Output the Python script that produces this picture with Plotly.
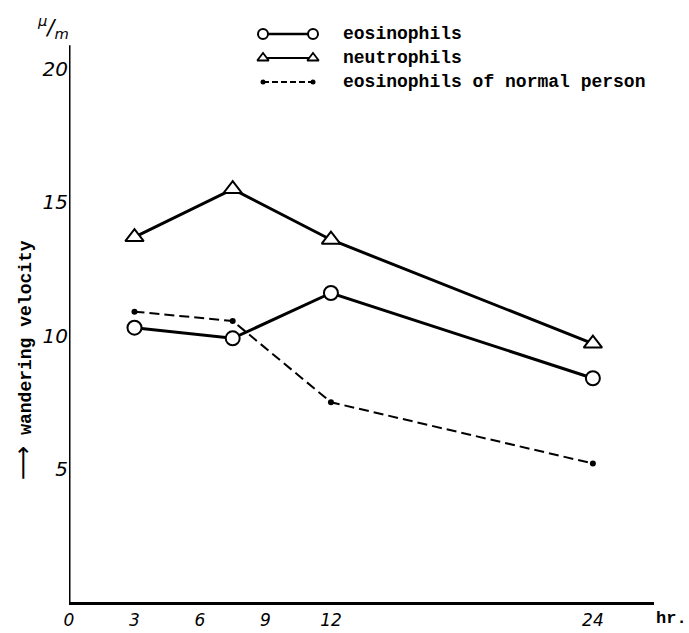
import plotly.graph_objects as go

# ---------------- data ----------------
hours = [3, 7.5, 12, 24]
eosinophils = [10.3, 9.9, 11.6, 8.4]
neutrophils = [13.7, 15.5, 13.6, 9.7]
normal_eos = [10.9, 10.55, 7.5, 5.2]

x_ticks = [0, 3, 6, 9, 12, 24]
y_ticks = [5, 10, 15, 20]
series_names = ["eosinophils", "neutrophils", "eosinophils of normal person"]

# ---------------- layout constants ----------------
W, H = 689, 633
ML, MR, MT, MB = 69, 35, 0, 31
PW, PH = W - ML - MR, H - MT - MB
X_MAX = 26.8
Y_MAX = 22.6
TYPE = "Liberation Mono"
HAND = "DejaVu Sans"


def px(xp):
    return (xp - ML) / PW


def py(yp):
    return (H - MB - yp) / PH


fig = go.Figure()

# data traces
fig.add_trace(go.Scatter(
    x=hours, y=normal_eos, mode="lines+markers", name=series_names[2],
    line=dict(color="black", width=2, dash="10px,5px"),
    marker=dict(symbol="circle", size=6, color="black"),
    showlegend=False))
fig.add_trace(go.Scatter(
    x=hours, y=eosinophils, mode="lines+markers", name=series_names[0],
    line=dict(color="black", width=3),
    marker=dict(symbol="circle", size=14, color="white",
                line=dict(color="black", width=2)),
    showlegend=False))
fig.add_trace(go.Scatter(
    x=hours, y=neutrophils, mode="lines+markers", name=series_names[1],
    line=dict(color="black", width=3),
    marker=dict(symbol="triangle-up", size=16, color="white",
                line=dict(color="black", width=2)),
    showlegend=False))

# manual legend (overlay pixel axes)
leg_x = [263, 313]
leg_rows = [34, 58, 82]
leg_styles = [
    dict(line=dict(color="black", width=2.5),
         marker=dict(symbol="circle", size=10, color="white", line=dict(color="black", width=2))),
    dict(line=dict(color="black", width=2),
         marker=dict(symbol="triangle-up", size=10, color="white", line=dict(color="black", width=1.8))),
    dict(line=dict(color="black", width=2, dash="6px,3px"),
         marker=dict(symbol="circle", size=5, color="black")),
]
for name, yrow, st in zip(series_names, leg_rows, leg_styles):
    fig.add_trace(go.Scatter(
        x=leg_x, y=[yrow, yrow], mode="lines+markers", xaxis="x2", yaxis="y2",
        showlegend=False, hoverinfo="skip", **st))
    fig.add_annotation(x=px(341), y=py(yrow), xref="paper", yref="paper",
                       text=name, showarrow=False, xanchor="left", yanchor="middle",
                       font=dict(family=TYPE, size=18, color="black", weight="bold"))

# y axis line (ends at top of scale)
fig.add_shape(type="line", xref="x", yref="y", x0=0, x1=0, y0=0, y1=20.9,
              line=dict(color="black", width=3))

# texts
fig.add_annotation(x=px(672), y=py(618), xref="paper", yref="paper", text="hr.",
                   showarrow=False, xanchor="center", yanchor="middle",
                   font=dict(family=TYPE, size=17, color="black", weight="bold"))
fig.add_annotation(x=px(53), y=py(27), xref="paper", yref="paper",
                   text="<i><sup>μ</sup>/<sub>m</sub></i>",
                   showarrow=False, xanchor="center", yanchor="middle",
                   font=dict(family=HAND, size=21, color="black"))
fig.add_annotation(x=px(23), y=py(360), xref="paper", yref="paper",
                   text="<span style=\"font-family:'DejaVu Sans';font-weight:normal;font-size:24px\">⟶</span> wandering velocity",
                   textangle=-90,
                   showarrow=False, xanchor="center", yanchor="middle",
                   font=dict(family=TYPE, size=18, color="black", weight="bold"))

fig.update_layout(
    width=W, height=H,
    margin=dict(l=ML, r=MR, t=MT, b=MB, pad=0),
    paper_bgcolor="white", plot_bgcolor="white",
    showlegend=False,
    xaxis=dict(range=[0, X_MAX], tickvals=x_ticks, ticktext=[str(v) for v in x_ticks],
               showgrid=False, zeroline=False, showline=True, linecolor="black",
               linewidth=3, ticks="", ticklabelstandoff=1,
               tickfont=dict(family=HAND, size=17, color="black", style="italic")),
    yaxis=dict(range=[0, Y_MAX], tickvals=y_ticks, ticktext=[str(v) for v in y_ticks],
               showgrid=False, zeroline=False, showline=False, ticks="",
               tickfont=dict(family=HAND, size=20, color="black", style="italic")),
    xaxis2=dict(range=[ML, W - MR], overlaying="x", visible=False),
    yaxis2=dict(range=[H - MB, MT], overlaying="y", visible=False),
)

fig.write_html("out.html")
